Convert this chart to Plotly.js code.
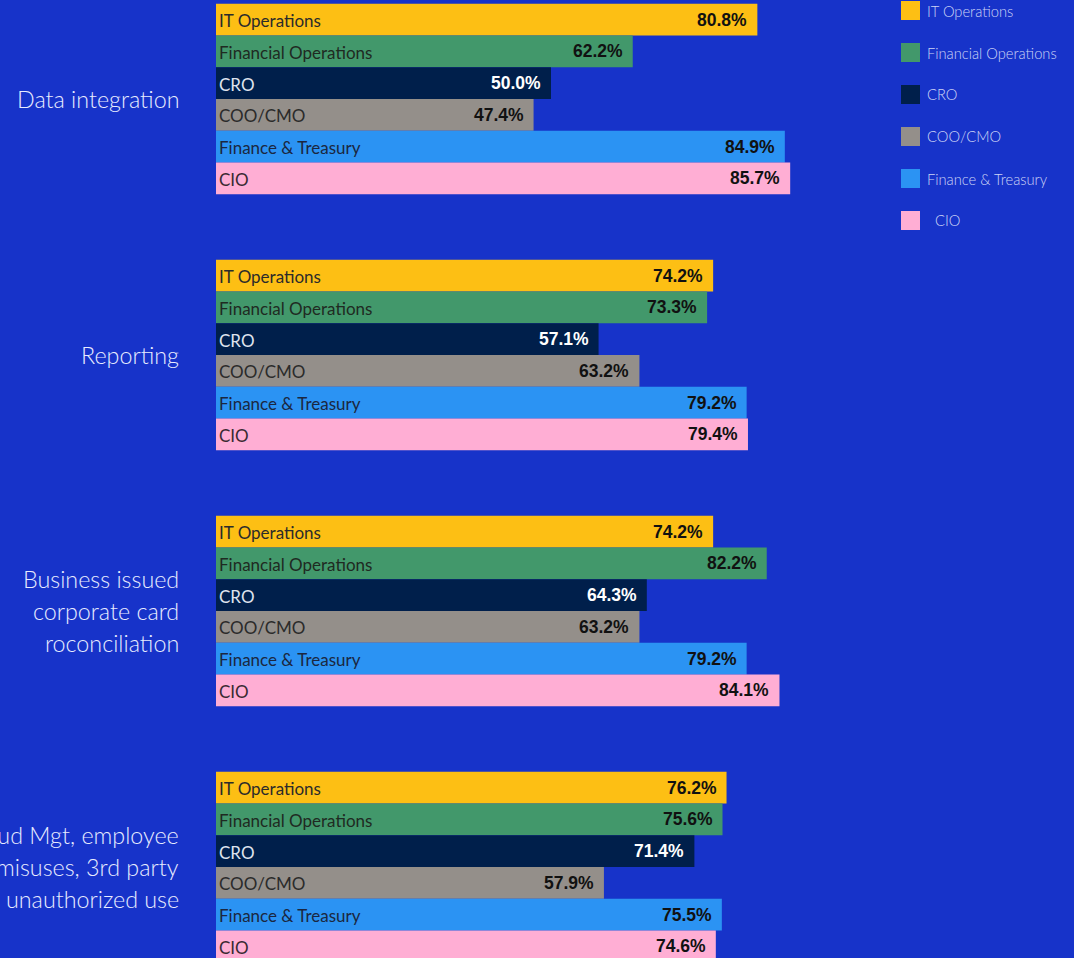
<!DOCTYPE html>
<html>
<head>
<meta charset="utf-8">
<script src="https://cdn.plot.ly/plotly-3.0.1.min.js"></script>
<style>
html,body{margin:0;padding:0;background:#1733c9;}
#chart{width:1074px;height:958px;}
</style>
</head>
<body>
<div id="chart"></div>
<script>
// ---- data ----
const categories = [
  ["Data integration"],
  ["Reporting"],
  ["Business issued", "corporate card", "roconciliation"],
  ["Fraud Mgt, employee", "misuses, 3rd party", "unauthorized use"]
];
const seriesNames = ["IT Operations", "Financial Operations", "CRO", "COO/CMO", "Finance & Treasury", "CIO"];
const itOperations      = [80.8, 74.2, 74.2, 76.2];
const financialOps      = [62.2, 73.3, 82.2, 75.6];
const cro               = [50.0, 57.1, 64.3, 71.4];
const cooCmo            = [47.4, 63.2, 63.2, 57.9];
const financeTreasury   = [84.9, 79.2, 79.2, 75.5];
const cio               = [85.7, 79.4, 84.1, 74.6];
const seriesValues = [itOperations, financialOps, cro, cooCmo, financeTreasury, cio];

// ---- style ----
const BG = "#1733c9";
const colors = ["#fdbf14", "#42986b", "#001f4b", "#948f8a", "#2b93f3", "#ffaed4"];
const nameColors = ["#2b2b2b", "#1f2a22", "#dfe3ee", "#2b2b2b", "#1b2740", "#3a2a32"];
const valueColors = ["#111111", "#111111", "#ffffff", "#111111", "#111111", "#111111"];

const W = 1074, H = 958;
const ML = 216;
const PXPERPCT = 6.7;
const BARPX = 31.75;
const GROUPSTEP = 256 / BARPX;
const FIRSTCENTERPX = 99;
const nS = seriesNames.length;

function yPos(g, s) { return g * GROUPSTEP + (s - (nS - 1) / 2); }

const traces = [];
const annotations = [];
seriesValues.forEach((vals, s) => {
  const ys = vals.map((v, g) => yPos(g, s));
  traces.push({
    type: "bar", orientation: "h",
    x: vals, y: ys, width: 1,
    marker: {color: colors[s], line: {width: 0}},
    name: seriesNames[s], hoverinfo: "skip", showlegend: false
  });
  vals.forEach((v, g) => {
    annotations.push({
      xref: "x", yref: "y", x: 0, y: ys[g], xanchor: "left", yanchor: "middle",
      text: seriesNames[s], showarrow: false, xshift: 1, yshift: -1,
      font: {family: "Lato, 'Open Sans', sans-serif", size: 17, color: nameColors[s]}
    });
    annotations.push({
      xref: "x", yref: "y", x: v, y: ys[g], xanchor: "right", yanchor: "middle",
      text: "<b>" + v.toFixed(1) + "%</b>", showarrow: false, xshift: -8,
      font: {family: "'Liberation Sans', Arial, sans-serif", size: 17.5, color: valueColors[s]}
    });
  });
});

// category labels
categories.forEach((lines, g) => {
  lines.forEach((ln, i) => {
    annotations.push({
      xref: "paper", yref: "y", x: 0, y: yPos(g, (nS - 1) / 2),
      xanchor: "right", yanchor: "middle", showarrow: false,
      xshift: -35, yshift: -(i - (lines.length - 1) / 2) * 32,
      text: ln,
      font: {family: "Lato, sans-serif", size: 23.3, color: "#e8ecff", weight: 300}
    });
  });
});

// legend (drawn manually)
const plotW = W - ML;
const shapes = [];
seriesNames.forEach((nm, s) => {
  const cy = 10.5 + 42 * s;
  shapes.push({
    type: "rect", xref: "paper", yref: "paper", line: {width: 0},
    x0: (901 - ML) / plotW, x1: (920 - ML) / plotW,
    y0: 1 - (cy - 9.5) / H, y1: 1 - (cy + 9.5) / H,
    fillcolor: colors[s]
  });
  annotations.push({
    xref: "paper", yref: "paper", x: (925 - ML) / plotW, y: 1 - cy / H,
    xanchor: "left", yanchor: "middle", showarrow: false,
    text: (nm === "CIO" ? "\u00a0\u00a0" : "") + nm,
    font: {family: "Lato, sans-serif", size: 14.7, color: "#cdd4f6", weight: 300}
  });
});

const yTop = -FIRSTCENTERPX / BARPX;
const yBot = yTop + H / BARPX;

const layout = {
  width: W, height: H,
  paper_bgcolor: BG, plot_bgcolor: BG,
  margin: {l: ML, r: 0, t: 0, b: 0, pad: 0},
  barmode: "overlay",
  showlegend: false,
  xaxis: {range: [0, plotW / PXPERPCT], visible: false, fixedrange: true},
  yaxis: {range: [yBot, yTop], visible: false, fixedrange: true},
  annotations: annotations,
  shapes: shapes
};

Plotly.newPlot("chart", traces, layout, {displayModeBar: false, staticPlot: true});
</script>
</body>
</html>
